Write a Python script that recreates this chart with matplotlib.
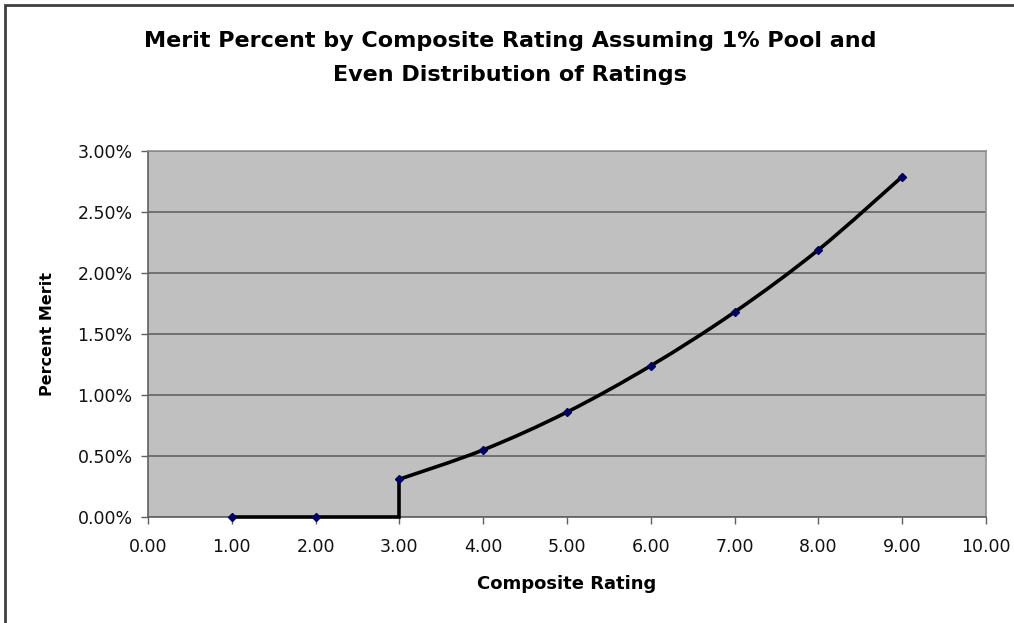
import numpy as np
import matplotlib.pyplot as plt
from matplotlib.patches import Rectangle, PathPatch
from matplotlib.path import Path
from matplotlib.ticker import FuncFormatter

# data
ratings = [1, 2, 3, 4, 5, 6, 7, 8, 9]
merit_pct = [0.0, 0.0, 0.31, 0.55, 0.86, 1.24, 1.68, 2.19, 2.79]

# the line steps up at 3.00 (flat from 1 to 3, then jumps)
step_x = [1, 2, 3, 3]
step_y = [0.0, 0.0, 0.0, 0.31]
curve_x = ratings[2:]
curve_y = merit_pct[2:]


def smooth_path(xs, ys):
    # excel-style smoothed line: bezier segments through the points
    pts = np.column_stack([xs, ys]).astype(float)
    n = len(pts)
    verts = [pts[0]]
    codes = [Path.MOVETO]
    for i in range(n - 1):
        p0 = pts[i - 1] if i > 0 else pts[i]
        p3 = pts[i + 2] if i + 2 < n else pts[i + 1]
        c1 = pts[i] + (pts[i + 1] - p0) / 6
        c2 = pts[i + 1] - (p3 - pts[i]) / 6
        verts += [c1, c2, pts[i + 1]]
        codes += [Path.CURVE4] * 3
    return Path(verts, codes)


plt.rcParams["font.family"] = ["DejaVu Sans"]

fig = plt.figure(figsize=(10.14, 6.23), dpi=100)
fig.patch.set_facecolor("white")

# chart frame (top/left edge visible)
fig.patches.append(Rectangle((5 / 1014, -0.05), 1.2, 1 - 5 / 623 + 0.05,
                             transform=fig.transFigure, fill=False,
                             edgecolor="#404040", linewidth=2.0))

ax = fig.add_axes([148 / 1014, 1 - 517 / 623, (986 - 148) / 1014, (517 - 151) / 623])
ax.set_facecolor("#C0C0C0")

ax.plot(step_x, step_y, color="black", linewidth=2.6, solid_joinstyle="miter",
        clip_on=False, zorder=5)
ax.add_patch(PathPatch(smooth_path(curve_x, curve_y), facecolor="none",
                       edgecolor="black", linewidth=2.6, zorder=5))
ax.plot(ratings, merit_pct, linestyle="none", marker="D", markersize=4.5,
        color="#000060", clip_on=False, zorder=6)

ax.set_xlim(0, 10)
ax.set_ylim(0, 3.0)
ax.set_xticks(np.arange(0, 11, 1))
ax.set_yticks(np.arange(0, 3.01, 0.5))
ax.xaxis.set_major_formatter(FuncFormatter(lambda v, p: f"{v:.2f}"))
ax.yaxis.set_major_formatter(FuncFormatter(lambda v, p: f"{v:.2f}%"))
ax.tick_params(axis="both", labelsize=12.5, direction="out", length=5,
               color="#606060", width=1, labelcolor="#111111")
ax.tick_params(axis="x", pad=10)
ax.tick_params(axis="y", pad=6)

ax.grid(axis="y", color="#707070", linewidth=1.4)
ax.set_axisbelow(True)
for side in ["top", "right"]:
    ax.spines[side].set_color("#909090")
    ax.spines[side].set_linewidth(1.2)
for side in ["left", "bottom"]:
    ax.spines[side].set_color("#606060")
    ax.spines[side].set_linewidth(1.2)

ax.set_xlabel("Composite Rating", fontsize=13, fontweight="bold", labelpad=14)
ax.set_ylabel("Percent Merit", fontsize=11.5, fontweight="bold", labelpad=16)

fig.text(0.503, 1 - 41 / 623, "Merit Percent by Composite Rating Assuming 1% Pool and",
         ha="center", va="center", fontsize=16, fontweight="bold")
fig.text(0.503, 1 - 75 / 623, "Even Distribution of Ratings",
         ha="center", va="center", fontsize=16, fontweight="bold")

fig.savefig("out.png", dpi=100)
